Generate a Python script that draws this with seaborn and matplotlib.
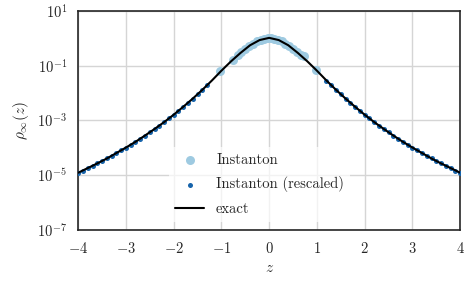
import numpy as np
import pandas as pd
import matplotlib
matplotlib.use("Agg")
import matplotlib.pyplot as plt
import seaborn as sns

# exact curve, log10 of rho
z_exact = [-4.0, -3.8, -3.6, -3.4, -3.2, -3.0, -2.8, -2.6, -2.4, -2.2, -2.0,
           -1.8, -1.6, -1.4, -1.2, -1.0, -0.8, -0.6, -0.4, -0.2, 0.0,
           0.2, 0.4, 0.6, 0.8, 1.0, 1.2, 1.4, 1.6, 1.8, 2.0,
           2.2, 2.4, 2.6, 2.8, 3.0, 3.2, 3.4, 3.6, 3.8, 4.0]
log_exact = [-4.91, -4.74, -4.57, -4.39, -4.19, -3.99, -3.78, -3.55, -3.31, -3.06, -2.79,
             -2.50, -2.20, -1.88, -1.54, -1.18, -0.84, -0.53, -0.25, -0.06, 0.02,
             -0.06, -0.25, -0.53, -0.84, -1.18, -1.54, -1.88, -2.20, -2.50, -2.79,
             -3.06, -3.31, -3.55, -3.78, -3.99, -4.19, -4.39, -4.57, -4.74, -4.91]

# instanton points (light blue, central region)
z_inst = [-1.02, -0.76, -0.66, -0.58, -0.5, -0.42, -0.34, -0.26, -0.18, -0.1, -0.03,
          0.03, 0.1, 0.18, 0.26, 0.34, 0.42, 0.5, 0.58, 0.66, 0.72, 0.98]
log_inst = [-1.20, -0.78, -0.62, -0.50, -0.38, -0.28, -0.19, -0.11, -0.05, -0.01, 0.0,
            0.0, -0.01, -0.05, -0.11, -0.19, -0.28, -0.38, -0.50, -0.62, -0.66, -1.15]

# rescaled instanton points (dark blue, tails)
z_resc = [-4.0, -3.9, -3.8, -3.7, -3.6, -3.5, -3.4, -3.3, -3.2, -3.1, -3.0,
          -2.9, -2.8, -2.7, -2.6, -2.5, -2.4, -2.3, -2.2, -2.1, -2.0,
          -1.9, -1.8, -1.7, -1.6, -1.5, -1.4, -1.3,
          1.2, 1.3, 1.4, 1.5, 1.6, 1.7, 1.8, 1.9, 2.0,
          2.1, 2.2, 2.3, 2.4, 2.5, 2.6, 2.7, 2.8, 2.9, 3.0,
          3.1, 3.2, 3.3, 3.4, 3.5, 3.6, 3.7, 3.8, 3.9, 4.0]
log_resc = [-4.91, -4.83, -4.74, -4.66, -4.57, -4.48, -4.39, -4.29, -4.19, -4.09, -3.99,
            -3.89, -3.78, -3.66, -3.55, -3.43, -3.31, -3.19, -3.06, -2.92, -2.79,
            -2.65, -2.50, -2.35, -2.20, -2.04, -1.88, -1.71,
            -1.54, -1.71, -1.88, -2.04, -2.20, -2.35, -2.50, -2.65, -2.79,
            -2.92, -3.06, -3.19, -3.31, -3.43, -3.55, -3.66, -3.78, -3.89, -3.99,
            -4.09, -4.19, -4.29, -4.39, -4.48, -4.57, -4.66, -4.74, -4.83, -4.91]

df_exact = pd.DataFrame({"z": z_exact, "rho": 10 ** np.array(log_exact)})
df_inst = pd.DataFrame({"z": z_inst, "rho": 10 ** np.array(log_inst)})
df_resc = pd.DataFrame({"z": z_resc, "rho": 10 ** np.array(log_resc)})

sns.set_style("whitegrid")
plt.rcParams["font.family"] = "serif"
plt.rcParams["font.serif"] = ["cmr10", "DejaVu Serif"]
plt.rcParams["mathtext.fontset"] = "cm"
plt.rcParams["axes.formatter.use_mathtext"] = True
plt.rcParams["axes.unicode_minus"] = True
plt.rcParams["font.size"] = 10.5

light = "#9ecae1"
dark = "#1764ab"

fig, ax = plt.subplots(figsize=(4.71, 2.91), dpi=100)
fig.subplots_adjust(left=0.166, right=0.977, top=0.962, bottom=0.21)

sns.scatterplot(data=df_inst, x="z", y="rho", ax=ax, color=light, s=42,
                linewidth=0, label="Instanton", zorder=2)
sns.scatterplot(data=df_resc, x="z", y="rho", ax=ax, color=dark, s=13,
                linewidth=0, label="Instanton (rescaled)", zorder=3)
sns.lineplot(data=df_exact, x="z", y="rho", ax=ax, color="black", lw=1.5,
             label="exact", zorder=4)

ax.set_yscale("log")
ax.set_xlim(-4, 4)
ax.set_ylim(1e-7, 1e1)
ax.set_yticks([1e-7, 1e-5, 1e-3, 1e-1, 1e1])
ax.minorticks_off()
ax.set_xlabel("$z$", fontsize=11)
ax.set_ylabel(r"$\rho_\infty(z)$", fontsize=11)
ax.tick_params(labelsize=10.5, length=0, pad=8)
for sp in ax.spines.values():
    sp.set_color("#262626")
    sp.set_linewidth(1.2)
ax.grid(color="#d5d5d5", lw=1)

leg = ax.legend(loc="lower center", bbox_to_anchor=(0.475, 0.005), frameon=True,
                framealpha=0.7, edgecolor="none", fontsize=10.5, handlelength=2,
                labelspacing=0.65)

plt.savefig("out.png", dpi=100)
